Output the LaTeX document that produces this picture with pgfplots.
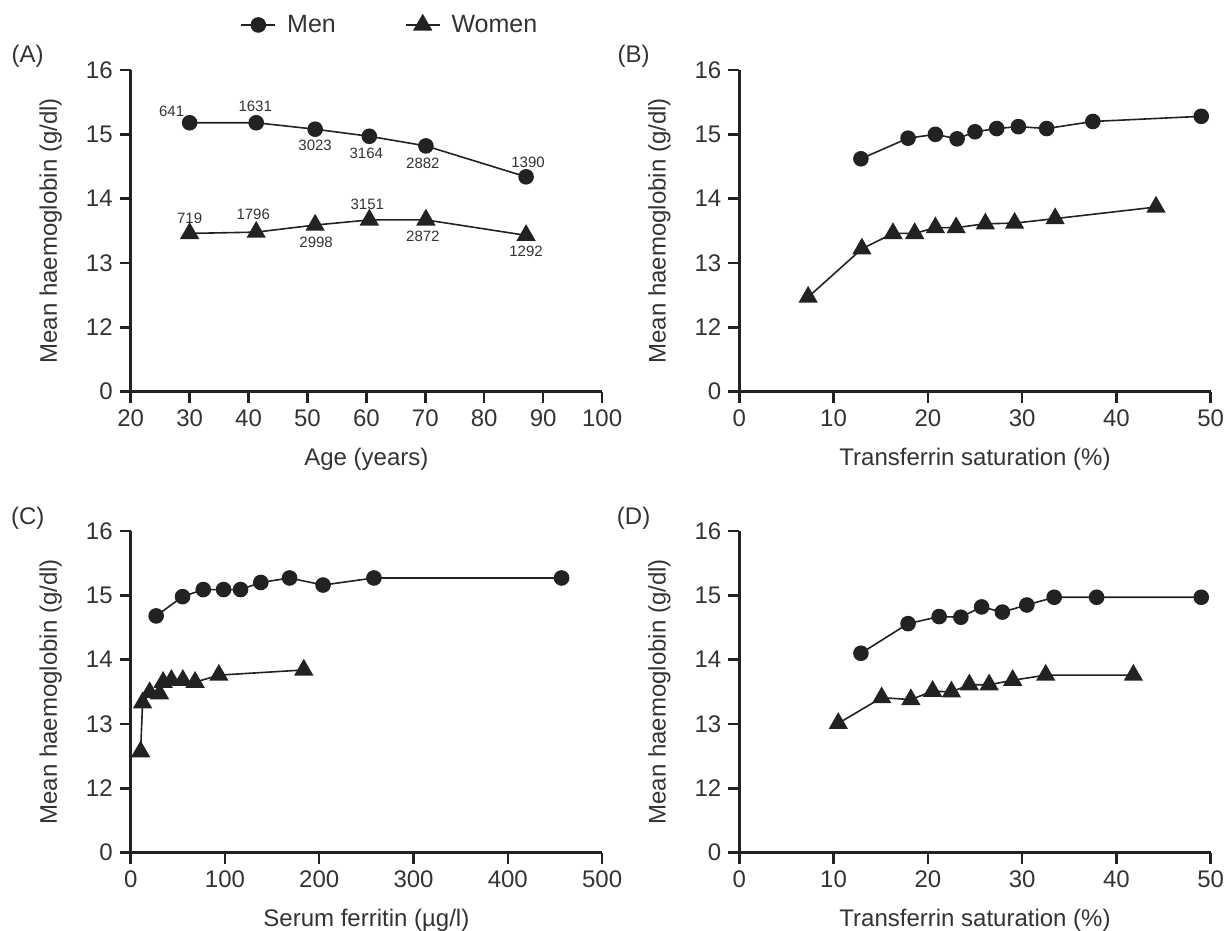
\documentclass[border=0pt]{standalone}
\usepackage{fontspec}
\setmainfont{Liberation Sans}
\usepackage{pgfplots}
\pgfplotsset{compat=1.18}
\definecolor{ink}{HTML}{222222}
\definecolor{txt}{HTML}{333333}

\newcommand\bigfont{\fontsize{12}{14}\selectfont}
\newcommand\nfont{\fontsize{7.5}{9}\selectfont}

\tikzset{nlab/.style={font=\nfont, text=txt, anchor=center}}

\pgfplotsset{
  hb/.style={
    width=235.7pt, height=160.85pt, scale only axis,
    axis lines*=left,
    axis line style={line width=1.2pt, ink},
    tick style={line width=1.2pt, ink},
    tick align=outside, major tick length=5.5pt,
    ymin=11, ymax=16, ytick={11,12,...,16}, yticklabels={0,12,13,14,15,16},
    ticklabel style={font=\bigfont, text=txt},
    /pgf/number format/assume math mode=true,
    every axis y label/.style={at={(axis description cs:0,0.5)}, rotate=90, anchor=center, yshift=40pt, font=\bigfont, text=txt},
    every axis x label/.style={at={(axis description cs:0.5,0)}, anchor=center, yshift=-34pt, font=\bigfont, text=txt},
    ylabel={Mean haemoglobin (g/dl)},
    clip=false,
  },
  men/.style={ink, line width=0.8pt, mark=*, mark size=3.5pt, mark options={fill=ink, draw=ink, solid}},
  women/.style={ink, line width=0.8pt, mark=triangle*, mark size=4.8pt, mark options={fill=ink, draw=ink, solid}},
}

\begin{document}
\begin{tikzpicture}
\useasboundingbox (0,0) rectangle (613.5pt,465.5pt);

% (A) age
\begin{axis}[hb, at={(65.35pt,269.65pt)}, anchor=south west,
  xmin=20, xmax=100, xtick={20,30,...,100},
  xlabel={Age (years)},
  legend columns=2,
  legend style={draw=none, fill=none, at={(axis description cs:0.232,1.14)}, anchor=west,
    inner sep=0pt, font=\fontsize{12.5}{14}\selectfont, text=txt,
    nodes={inner sep=0pt},
    /tikz/every odd column/.append style={column sep=5.5pt},
    /tikz/every even column/.append style={column sep=34.5pt}},
  legend cell align=left]
\addplot[men] coordinates {(30,15.18) (41.3,15.18) (51.3,15.08) (60.5,14.97) (70.1,14.82) (87.1,14.34)};
\addlegendentry{Men}
\addplot[women] coordinates {(30,13.46) (41.3,13.48) (51.3,13.59) (60.5,13.67) (70.1,13.67) (87.1,13.43)};
\addlegendentry{Women}
\node[nlab, xshift=-9pt, yshift=5.5pt] at (axis cs:30,15.18) {641};
\node[nlab, xshift=-0.5pt, yshift=8pt] at (axis cs:41.3,15.18) {1631};
\node[nlab, yshift=-8pt] at (axis cs:51.3,15.08) {3023};
\node[nlab, xshift=-1.5pt, yshift=-8.5pt] at (axis cs:60.5,14.97) {3164};
\node[nlab, xshift=-1.5pt, yshift=-8.5pt] at (axis cs:70.1,14.82) {2882};
\node[nlab, xshift=1pt, yshift=7pt] at (axis cs:87.1,14.34) {1390};
\node[nlab, yshift=7.5pt] at (axis cs:30,13.46) {719};
\node[nlab, xshift=-1.5pt, yshift=9pt] at (axis cs:41.3,13.48) {1796};
\node[nlab, xshift=0.5pt, yshift=-8.5pt] at (axis cs:51.3,13.59) {2998};
\node[nlab, xshift=-1pt, yshift=8pt] at (axis cs:60.5,13.67) {3151};
\node[nlab, xshift=-1.5pt, yshift=-8pt] at (axis cs:70.1,13.67) {2872};
\node[nlab, yshift=-8pt] at (axis cs:87.1,13.43) {1292};
\end{axis}

% (B) transferrin saturation
\begin{axis}[hb, at={(369.65pt,269.65pt)}, anchor=south west,
  xmin=0, xmax=50, xtick={0,10,...,50},
  xlabel={Transferrin saturation (\%)}]
\addplot[men] coordinates {(12.9,14.62) (17.9,14.94) (20.8,15.0) (23.1,14.93) (25.0,15.04) (27.3,15.09) (29.6,15.12) (32.6,15.09) (37.5,15.20) (49.0,15.28)};
\addplot[women] coordinates {(7.3,12.47) (13.0,13.22) (16.3,13.46) (18.6,13.46) (20.8,13.55) (23.0,13.55) (26.1,13.61) (29.2,13.62) (33.5,13.69) (44.2,13.87)};
\end{axis}

% (C) serum ferritin
\begin{axis}[hb, at={(65.35pt,39.15pt)}, anchor=south west,
  xmin=0, xmax=500, xtick={0,100,...,500},
  xlabel={Serum ferritin (µg/l)}]
\addplot[men] coordinates {(27,14.68) (55,14.98) (77,15.09) (98.5,15.09) (116.5,15.09) (138,15.2) (168.5,15.27) (204,15.16) (258,15.27) (457,15.27)};
\addplot[women] coordinates {(10.5,12.57) (12.6,13.33) (20.1,13.49) (30.6,13.47) (34.4,13.65) (43.2,13.68) (55.3,13.68) (68.3,13.65) (93.5,13.76) (183.6,13.84)};
\end{axis}

% (D) transferrin saturation
\begin{axis}[hb, at={(369.65pt,39.15pt)}, anchor=south west,
  xmin=0, xmax=50, xtick={0,10,...,50},
  xlabel={Transferrin saturation (\%)}]
\addplot[men] coordinates {(12.9,14.1) (17.9,14.56) (21.2,14.67) (23.5,14.66) (25.7,14.82) (27.9,14.74) (30.5,14.85) (33.4,14.97) (37.9,14.97) (49,14.97)};
\addplot[women] coordinates {(10.5,13.01) (15.1,13.41) (18.2,13.38) (20.5,13.51) (22.5,13.5) (24.4,13.61) (26.5,13.61) (29,13.68) (32.5,13.76) (41.8,13.76)};
\end{axis}

\node[font=\bigfont, text=txt] at (13.85pt,437.5pt) {(A)};
\node[font=\bigfont, text=txt] at (316.8pt,437.5pt) {(B)};
\node[font=\bigfont, text=txt] at (13.85pt,206.5pt) {(C)};
\node[font=\bigfont, text=txt] at (316.8pt,206.5pt) {(D)};
\end{tikzpicture}
\end{document}
